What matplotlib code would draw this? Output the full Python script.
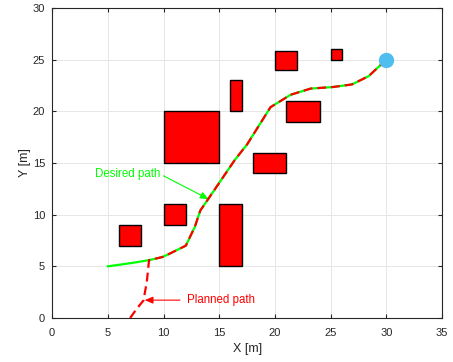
import matplotlib
matplotlib.use("Agg")
from matplotlib import pyplot as plt
from matplotlib.patches import Rectangle

plt.rcParams['font.family'] = ['Liberation Sans', 'DejaVu Sans']

# obstacles: x, y, width, height
obs_x = [10, 16, 20, 25, 21, 18, 15, 10, 6]
obs_y = [15, 20, 24, 25, 19, 14, 5, 9, 7]
obs_w = [5, 1, 2, 1, 3, 3, 2, 2, 2]
obs_h = [5, 3, 1.8, 1, 2, 2, 6, 2, 2]

# desired path
des_x = [5, 7, 8.7, 9.9, 10.5, 12, 12.8, 13.3, 14, 15.2, 16.4, 17.5, 19.6,
         20.5, 21.4, 23.2, 25.2, 26.9, 28.4, 30]
des_y = [5, 5.3, 5.6, 5.9, 6.2, 7, 8.8, 10.4, 11.5, 13.4, 15.3, 16.8, 20.4,
         21.0, 21.6, 22.2, 22.35, 22.6, 23.4, 25]

# planned path (joins desired path)
plan_x = [7, 7.6, 8.2, 8.5, 8.7] + des_x[3:]
plan_y = [0, 0.9, 1.7, 3.5, 5.6] + des_y[3:]

goal = (30, 25)

fig = plt.figure(figsize=(4.53, 3.62), dpi=100)
ax = fig.add_axes([0.115, 0.1215, 0.861, 0.8565])

for x, y, w, h in zip(obs_x, obs_y, obs_w, obs_h):
    ax.add_patch(Rectangle((x, y), w, h, facecolor='red', edgecolor='black',
                           linewidth=1.0, zorder=2))

ax.plot(des_x, des_y, color=(0, 1, 0), linewidth=1.6, zorder=3)
ax.plot(plan_x, plan_y, color='red', linewidth=1.6, linestyle=(0, (4, 2.2)),
        zorder=4)
ax.plot(*goal, 'o', color='#4DBEEE', markersize=10, zorder=5)

ax.annotate('Desired path', xy=(14.05, 11.5), xytext=(9.75, 13.9),
            ha='right', va='center', color=(0, 1, 0), fontsize=8.3,
            arrowprops=dict(arrowstyle='-|>,head_length=0.6,head_width=0.25',
                            color=(0, 1, 0), lw=0.8, relpos=(1, 0.5),
                            shrinkA=0, shrinkB=0))
ax.annotate('Planned path', xy=(8.3, 1.73), xytext=(12.1, 1.73),
            ha='left', va='center', color='red', fontsize=8.3,
            arrowprops=dict(arrowstyle='-|>,head_length=0.6,head_width=0.25',
                            color='red', lw=0.8, relpos=(0, 0.5),
                            shrinkA=3, shrinkB=0))

ax.set_xlim(0, 35)
ax.set_ylim(0, 30)
ax.set_xticks(range(0, 36, 5))
ax.set_yticks(range(0, 31, 5))
ax.grid(True, color='#e6e6e6', linewidth=0.7)
ax.set_axisbelow(True)
ax.tick_params(direction='in', top=True, right=True, labelsize=8,
               colors='#262626', length=3)
ax.tick_params(axis='x', pad=7)
ax.tick_params(axis='y', pad=5)
for s in ax.spines.values():
    s.set_color('#262626')
    s.set_linewidth(0.8)
ax.set_xlabel('X [m]', fontsize=9, color='#262626', labelpad=4)
ax.set_ylabel('Y [m]', fontsize=9, color='#262626', labelpad=1)

fig.savefig('out.png', dpi=100)
